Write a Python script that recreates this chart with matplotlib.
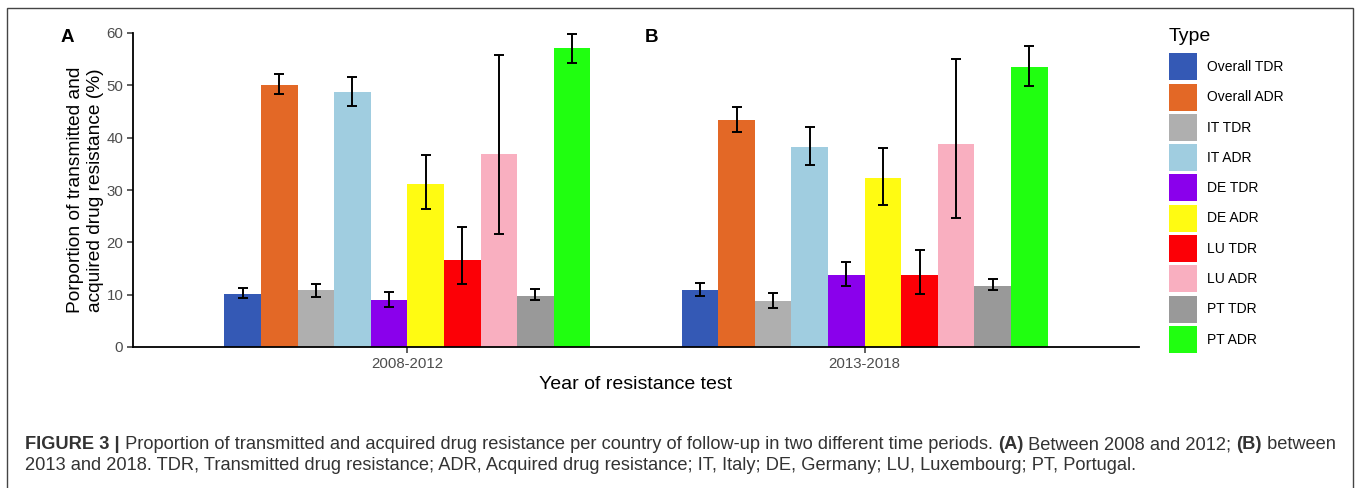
import matplotlib
matplotlib.use('Agg')
import matplotlib.pyplot as plt
import matplotlib.patches as mpatches
import matplotlib.transforms as mtransforms
import numpy as np

plt.rcParams['font.family'] = ['Liberation Sans', 'DejaVu Sans']

# data
types = ['Overall TDR', 'Overall ADR', 'IT TDR', 'IT ADR', 'DE TDR',
         'DE ADR', 'LU TDR', 'LU ADR', 'PT TDR', 'PT ADR']
periods = ['2008-2012', '2013-2018']
vals_2008 = [10.2, 50.1, 10.8, 48.7, 8.9, 31.1, 16.6, 36.8, 9.8, 57.1]
lo_2008 = [9.4, 48.4, 9.6, 46.1, 7.6, 26.3, 12.0, 21.5, 8.9, 54.3]
hi_2008 = [11.3, 52.1, 12.1, 51.5, 10.6, 36.6, 22.9, 55.8, 11.0, 59.9]
vals_2013 = [10.8, 43.4, 8.7, 38.3, 13.7, 32.2, 13.7, 38.8, 11.7, 53.5]
lo_2013 = [9.8, 41.0, 7.5, 34.7, 11.7, 27.2, 10.1, 24.7, 10.9, 49.9]
hi_2013 = [12.2, 45.9, 10.3, 42.1, 16.2, 38.0, 18.6, 55.1, 13.0, 57.5]
colors = ['#3459B5', '#E36826', '#AFAFAF', '#A0CDE0', '#8A00EC',
          '#FFFB12', '#FC0006', '#F9AFC0', '#999999', '#20FF10']

W, H = 1357, 488
fig = plt.figure(figsize=(W / 100, H / 100), dpi=100)
ax = fig.add_axes([133 / W, 1 - 347 / H, (1139 - 133) / W, (347 - 33) / H])

vals = [vals_2008, vals_2013]
los = [lo_2008, lo_2013]
his = [hi_2008, hi_2013]
bw = 0.08
for p in range(2):
    for i in range(len(types)):
        x = p + 1 + (i - 4.5) * bw
        v = vals[p][i]
        ax.bar(x, v, width=bw, color=colors[i], linewidth=0,
               label=types[i] if p == 0 else None)
        ax.errorbar(x, v, yerr=[[v - los[p][i]], [his[p][i] - v]], fmt='none',
                    ecolor='black', elinewidth=1.4, capsize=3.5, capthick=1.4)

ax.set_xlim(0.4, 2.6)
ax.set_ylim(0, 60)
ax.set_xticks([1, 2])
ax.set_xticklabels(periods)
ax.set_yticks(np.arange(0, 61, 10))
ax.tick_params(length=4, width=1.1, color='#333333', labelcolor='#4d4d4d',
               labelsize=10.8, pad=3)
for s in ['top', 'right']:
    ax.spines[s].set_visible(False)
for s in ['left', 'bottom']:
    ax.spines[s].set_linewidth(1.3)
ax.set_ylabel('Porportion of transmitted and\nacquired drug resistance (%)',
              fontsize=13.8, labelpad=2, linespacing=1.2)
ax.set_xlabel('Year of resistance test', fontsize=14, labelpad=3.5)

fig.text(67 / W, 1 - 37 / H, 'A', fontsize=13.5, fontweight='bold',
         ha='center', va='center')
fig.text(652 / W, 1 - 37 / H, 'B', fontsize=13.5, fontweight='bold',
         ha='center', va='center')

handles = [mpatches.Patch(facecolor=c, edgecolor='none') for c in colors]
leg = fig.legend(handles, types, loc='upper left',
                 bbox_to_anchor=(1162 / W, 1 - 21 / H), frameon=False,
                 fontsize=10, title='Type', title_fontsize=14,
                 handlelength=2.0, handleheight=2.61, labelspacing=0.24,
                 handletextpad=0.75, borderpad=0, alignment='left')
leg._legend_box.sep = 6

# outer frame of the figure panel
fig.patches.append(mpatches.Rectangle((7 / W, -0.05), (1353 - 7) / W, 1.05 - 8 / H,
                                      transform=fig.transFigure, fill=False,
                                      edgecolor='#444444', linewidth=1.0))

# caption with bold pieces
renderer = fig.canvas.get_renderer()
ident = mtransforms.IdentityTransform()
cap_fs = 13.15


def write_runs(runs, x, y):
    for s, bold in runs:
        t = fig.text(x, y, s, fontsize=cap_fs, color='#333333',
                     fontweight='bold' if bold else 'normal',
                     transform=ident, va='baseline')
        x = t.get_window_extent(renderer).x1


write_runs([('FIGURE 3 |', True),
            (' Proportion of transmitted and acquired drug resistance per country of '
             'follow-up in two different time periods. ', False),
            ('(A)', True), (' Between 2008 and 2012; ', False),
            ('(B)', True), (' between', False)], 25, H - 449)
write_runs([('2013 and 2018. TDR, Transmitted drug resistance; ADR, Acquired drug '
             'resistance; IT, Italy; DE, Germany; LU, Luxembourg; PT, Portugal.', False)],
           25, H - 470)

fig.savefig('out.png', dpi=100)
